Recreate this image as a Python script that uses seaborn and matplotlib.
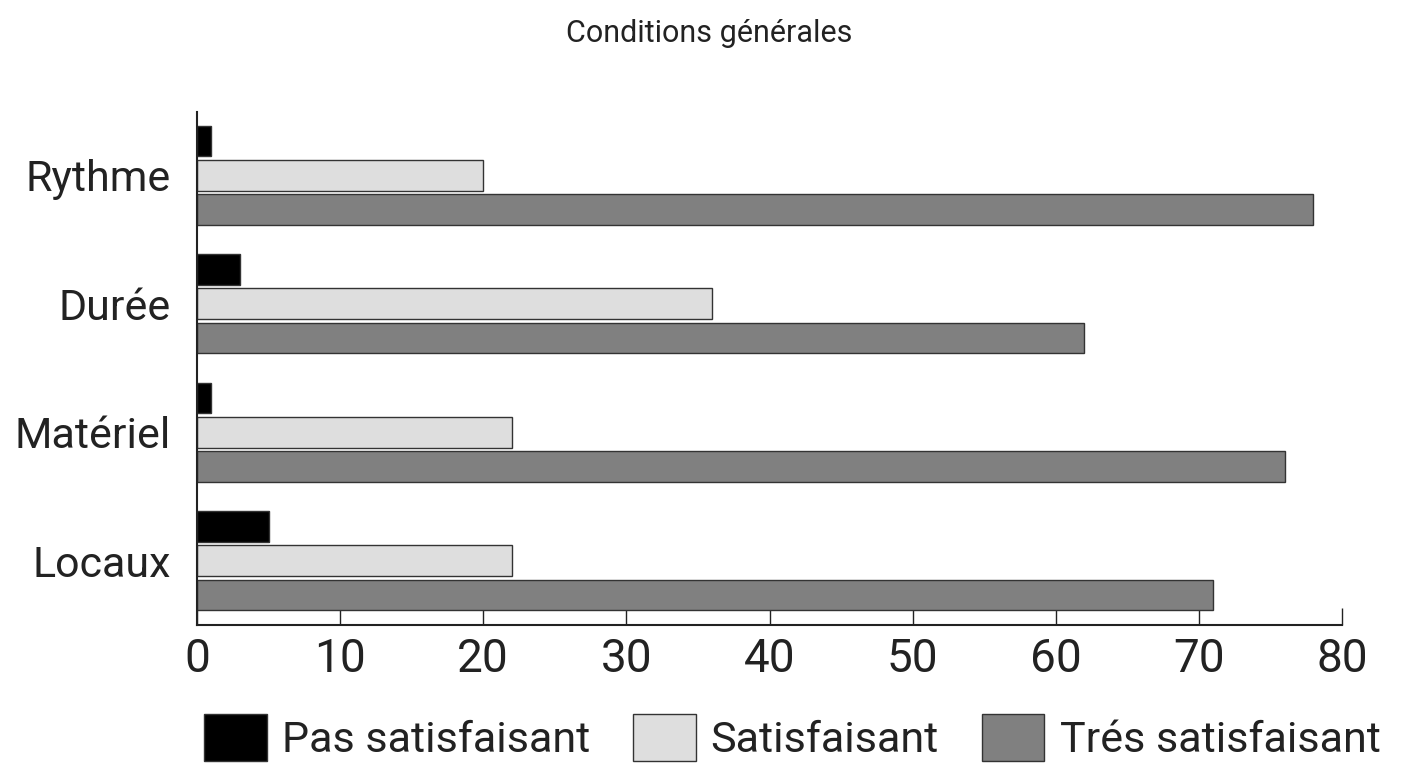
import pandas as pd
import matplotlib
matplotlib.use("Agg")
import matplotlib.pyplot as plt
import seaborn as sns

# data
categories = ["Rythme", "Durée", "Matériel", "Locaux"]
levels = ["Pas satisfaisant", "Satisfaisant", "Trés satisfaisant"]
pas_satisfaisant = [1, 3, 1, 5]
satisfaisant = [20, 36, 22, 22]
tres_satisfaisant = [78, 62, 76, 71]
colors = ["#000000", "#dedede", "#808080"]

rows = []
for i, cat in enumerate(categories):
    for lvl, vals in zip(levels, [pas_satisfaisant, satisfaisant, tres_satisfaisant]):
        rows.append({"categorie": cat, "niveau": lvl, "valeur": vals[i]})
df = pd.DataFrame(rows)

sns.set_theme(style="white")
plt.rcParams["font.family"] = ["Roboto", "DejaVu Sans"]

fig = plt.figure(figsize=(14.1, 7.64), dpi=100)
ax = fig.add_axes([0.1397, 0.182, 0.8121, 0.671])

sns.barplot(data=df, x="valeur", y="categorie", hue="niveau",
            order=categories, hue_order=levels, palette=colors,
            orient="h", width=0.8, gap=0.1, edgecolor="#333333",
            linewidth=1, saturation=1, ax=ax)

ax.set_xlim(0, 80)
ax.set_ylim(3.5, -0.49)
ax.set_xticks(range(0, 81, 10))
ax.set_xlabel("")
ax.set_ylabel("")
ax.tick_params(axis="x", bottom=True, direction="in", length=12, width=1,
               color="#222222", labelsize=33, pad=9, labelcolor="#222222")
ax.tick_params(axis="y", left=False, labelsize=31, pad=13, labelcolor="#222222")
for side in ["top", "right"]:
    ax.spines[side].set_visible(False)
for side in ["left", "bottom"]:
    ax.spines[side].set_color("#222222")
    ax.spines[side].set_linewidth(1.5)

ax.legend_.remove()
handles, labels = ax.get_legend_handles_labels()
fig.legend(handles, labels, loc="lower center", bbox_to_anchor=(0.562, -0.047),
           ncol=3, frameon=False, fontsize=31, handlelength=1.45,
           handleheight=1.3, handletextpad=0.35, columnspacing=1.0,
           labelcolor="#222222")

fig.suptitle("Conditions générales", x=0.503, y=0.975, fontsize=22,
             color="#222222")

plt.savefig("out.png", dpi=100)
